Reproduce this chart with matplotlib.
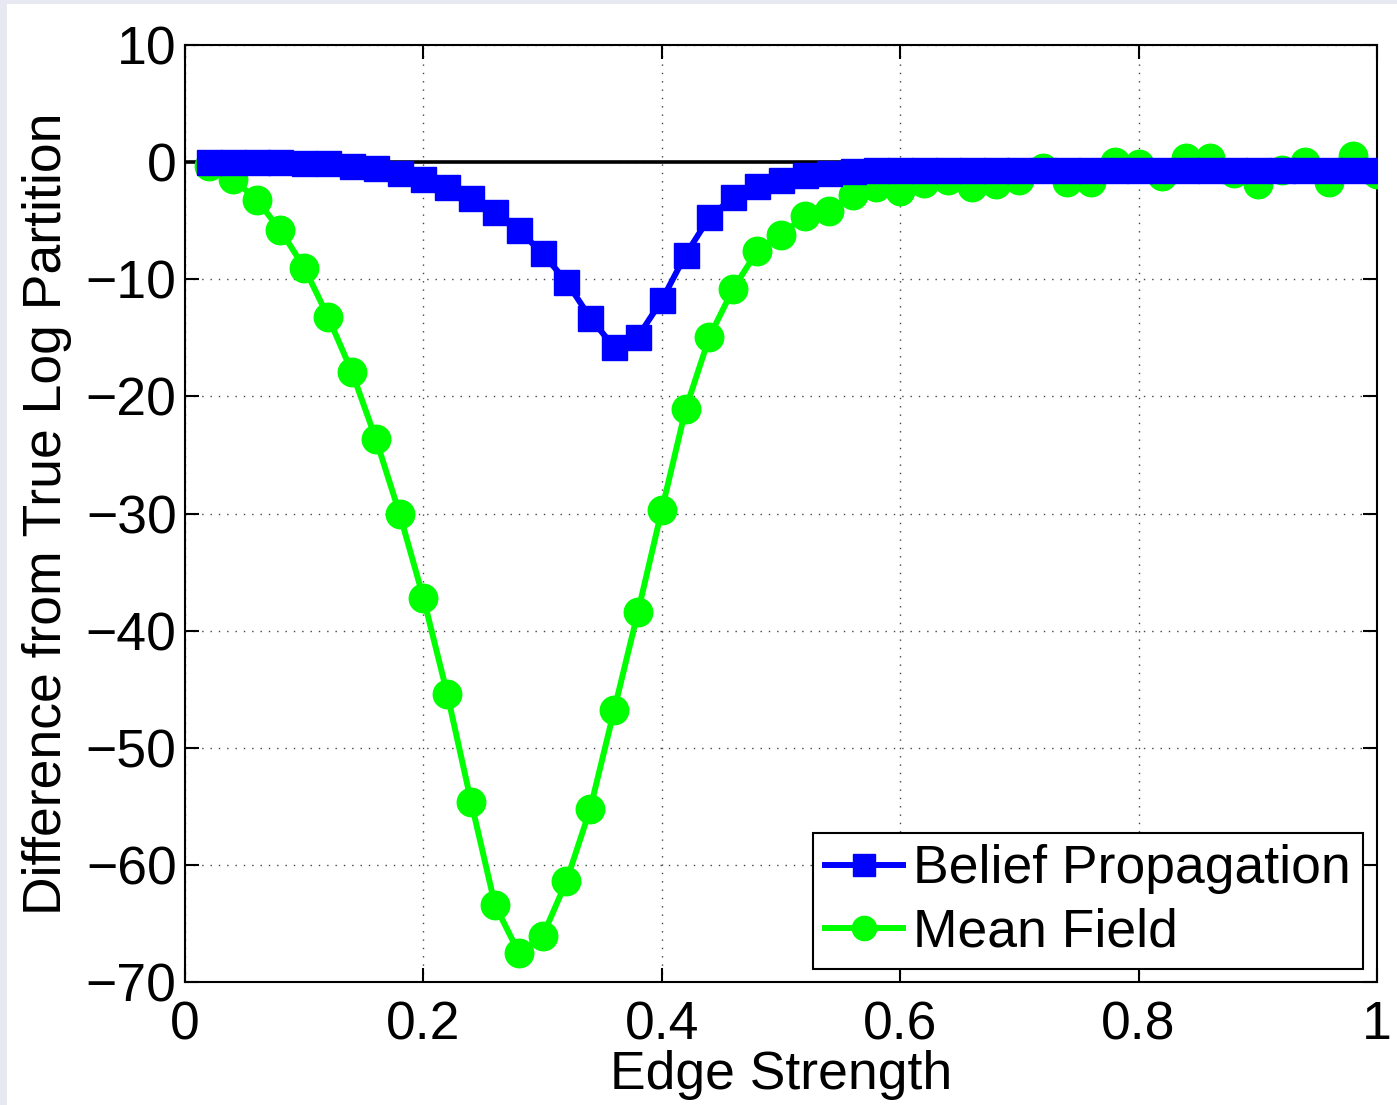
import matplotlib
matplotlib.use("Agg")
import matplotlib.pyplot as plt
import numpy as np

# Edge strength sweep and errors in log partition estimates
edge_strength = [0.02, 0.04, 0.06, 0.08, 0.10, 0.12, 0.14, 0.16, 0.18, 0.20,
                 0.22, 0.24, 0.26, 0.28, 0.30, 0.32, 0.34, 0.36, 0.38, 0.40,
                 0.42, 0.44, 0.46, 0.48, 0.50, 0.52, 0.54, 0.56, 0.58, 0.60,
                 0.62, 0.64, 0.66, 0.68, 0.70, 0.72, 0.74, 0.76, 0.78, 0.80,
                 0.82, 0.84, 0.86, 0.88, 0.90, 0.92, 0.94, 0.96, 0.98, 1.00]

belief_propagation = [0.05, 0.04, 0.02, 0.0, -0.05, -0.1, -0.3, -0.5, -0.9, -1.4,
                      -2.1, -3.1, -4.3, -5.8, -7.8, -10.2, -13.3, -15.8, -14.9, -11.8,
                      -7.9, -4.7, -3.0, -2.0, -1.5, -1.1, -0.9, -0.8, -0.7, -0.7,
                      -0.65, -0.65, -0.65, -0.65, -0.65, -0.65, -0.65, -0.65, -0.65, -0.65,
                      -0.65, -0.65, -0.65, -0.65, -0.65, -0.65, -0.65, -0.65, -0.65, -0.65]

mean_field = [-0.3, -1.4, -3.2, -5.8, -9.0, -13.2, -17.9, -23.6, -30.0, -37.2,
              -45.4, -54.6, -63.4, -67.5, -66.1, -61.4, -55.2, -46.8, -38.4, -29.7,
              -21.1, -14.9, -10.8, -7.6, -6.2, -4.6, -4.2, -2.8, -2.1, -2.5,
              -1.8, -1.5, -2.1, -1.9, -1.5, -0.5, -1.7, -1.7, 0.0, -0.2,
              -1.2, 0.35, 0.35, -0.9, -1.9, -0.65, 0.05, -1.7, 0.5, -1.0]

x_ticks = [0, 0.2, 0.4, 0.6, 0.8, 1]
x_tick_labels = ["0", "0.2", "0.4", "0.6", "0.8", "1"]
y_ticks = [-70, -60, -50, -40, -30, -20, -10, 0, 10]

plt.rcParams['font.family'] = ['Liberation Sans', 'DejaVu Sans']
FS = 38.5

fig = plt.figure(figsize=(13.97, 11.05), dpi=100)
# thin tinted frame along the top and left edges of the canvas
fig.patches.append(plt.Rectangle((0, 1 - 4 / 1105), 1, 4 / 1105, transform=fig.transFigure,
                                 facecolor='#e8e8f2', edgecolor='none', zorder=0))
fig.patches.append(plt.Rectangle((0, 0), 7 / 1397, 1, transform=fig.transFigure,
                                 facecolor='#e8e8f2', edgecolor='none', zorder=0))

ax = fig.add_axes([185 / 1397, 1 - 982 / 1105, 1192 / 1397, 937 / 1105])

ax.plot([0, 1], [0, 0], color='black', linewidth=2.6, zorder=2)
ax.plot(edge_strength, mean_field, color='#00ff00', linewidth=4.3, marker='o',
        markersize=20.5, label='Mean Field', zorder=3)
ax.plot(edge_strength, belief_propagation, color='#0000ff', linewidth=4.3, marker='s',
        markersize=18, label='Belief Propagation', zorder=4)

ax.set_xlim(0, 1)
ax.set_ylim(-70, 10)
ax.set_xticks(x_ticks)
ax.set_xticklabels(x_tick_labels)
ax.set_yticks(y_ticks)

ax.grid(True, linestyle=(0, (1, 5)), color='#444444', linewidth=1.0)
ax.tick_params(direction='in', length=10, width=1.5, top=True, right=True,
               labelsize=FS, pad=6)
ax.tick_params(axis='x', pad=13)
for s in ax.spines.values():
    s.set_linewidth(1.5)

ax.set_xlabel('Edge Strength', fontsize=FS, labelpad=0)
ax.set_ylabel('Difference from True Log Partition', fontsize=FS, labelpad=10)

handles, labels = ax.get_legend_handles_labels()
leg = ax.legend(handles[::-1], labels[::-1], loc='lower right',
                bbox_to_anchor=((1363 - 185) / 1192, (982 - 969) / 937),
                borderaxespad=0, fontsize=FS, fancybox=False, framealpha=1,
                edgecolor='black', handlelength=1.45, handletextpad=0.2,
                borderpad=0.22, labelspacing=0.24, markerscale=0.85)
leg.get_frame().set_linewidth(1.5)

fig.savefig('out.png', dpi=100)
